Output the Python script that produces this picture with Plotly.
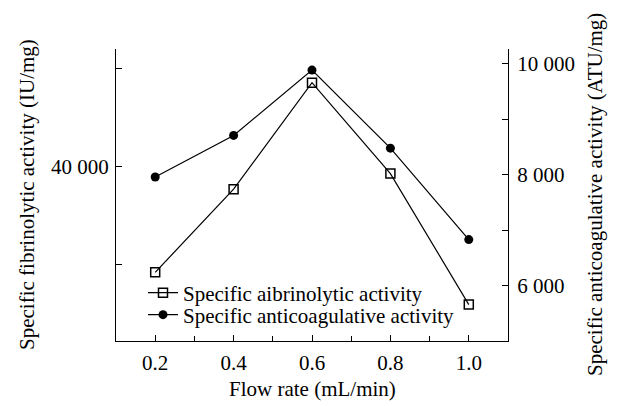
import plotly.graph_objects as go

flow_rate = [0.2, 0.4, 0.6, 0.8, 1.0]
fibrinolytic = [29200, 37700, 48600, 39300, 25900]
anticoagulative = [7960, 8710, 9890, 8480, 6830]

x_ticks = [0.2, 0.4, 0.6, 0.8, 1.0]
x_ticktext = ["0.2", "0.4", "0.6", "0.8", "1.0"]
left_ticks = [30000, 40000, 50000]
left_ticktext = ["", "40 000", ""]
right_ticks = [6000, 7000, 8000, 9000, 10000]
right_ticktext = ["6 000", "", "8 000", "", "10 000"]

FONT = "Liberation Serif"
FS = 21
W, H = 620, 406
L, R, T, B = 116, 112, 49, 65
pw = W - L - R
ph = H - T - B

fig = go.Figure()
fig.add_trace(go.Scatter(
    x=flow_rate, y=fibrinolytic, name="Specific aibrinolytic activity",
    mode="lines+markers",
    line=dict(color="black", width=1.2),
    marker=dict(symbol="square-open", size=9, color="black", line=dict(width=1.5)),
    yaxis="y", legend="legend"))
fig.add_trace(go.Scatter(
    x=flow_rate, y=anticoagulative, name="Specific anticoagulative activity",
    mode="lines+markers",
    line=dict(color="black", width=1.2),
    marker=dict(symbol="circle", size=9, color="black"),
    yaxis="y2", legend="legend2"))

axis_common = dict(showline=True, linecolor="black", linewidth=1.2, ticks="inside",
                   tickcolor="black", ticklen=6, tickwidth=1.2, showgrid=False,
                   zeroline=False, tickfont=dict(family=FONT, size=FS, color="black"))

leg_common = dict(xanchor="left", yanchor="middle", bgcolor="rgba(0,0,0,0)",
                  font=dict(family=FONT, size=FS, color="black"), itemwidth=30,
                  borderwidth=0)

fig.update_layout(
    width=W, height=H,
    margin=dict(l=L, r=R, t=T, b=B),
    paper_bgcolor="white", plot_bgcolor="white",
    font=dict(family=FONT, size=FS, color="black"),
    xaxis=dict(range=[0.1, 1.1], tickvals=x_ticks, ticktext=x_ticktext,
               ticklabelstandoff=3,
               minor=dict(dtick=0.1, tick0=0.1, ticks="inside", ticklen=5,
                          tickcolor="black", tickwidth=1.2),
               **axis_common),
    yaxis=dict(range=[22180, 52040], tickvals=left_ticks, ticktext=left_ticktext,
               ticklabelstandoff=2, **axis_common),
    yaxis2=dict(range=[5000, 10270], tickvals=right_ticks, ticktext=right_ticktext,
                ticklabelstandoff=4, overlaying="y", side="right", **axis_common),
    legend=dict(x=(143 - L) / pw, y=(H - B - 293) / ph, **leg_common),
    legend2=dict(x=(143 - L) / pw, y=(H - B - 315) / ph, **leg_common),
    showlegend=True,
)

fig.add_annotation(text="Flow rate (mL/min)", xref="paper", yref="paper",
                   x=0.5, y=-(389 - (H - B)) / ph, xanchor="center", yanchor="middle",
                   showarrow=False, font=dict(family=FONT, size=FS))
fig.add_annotation(text="Specific fibrinolytic activity (IU/mg)", xref="paper", yref="paper",
                   x=(27 - L) / pw, y=0.5, xanchor="center", yanchor="middle", textangle=-90,
                   showarrow=False, font=dict(family=FONT, size=FS))
fig.add_annotation(text="Specific anticoagulative activity (ATU/mg)", xref="paper", yref="paper",
                   x=(595 - L) / pw, y=0.5, xanchor="center", yanchor="middle", textangle=-90,
                   showarrow=False, font=dict(family=FONT, size=FS))

fig.write_html("out.html")
